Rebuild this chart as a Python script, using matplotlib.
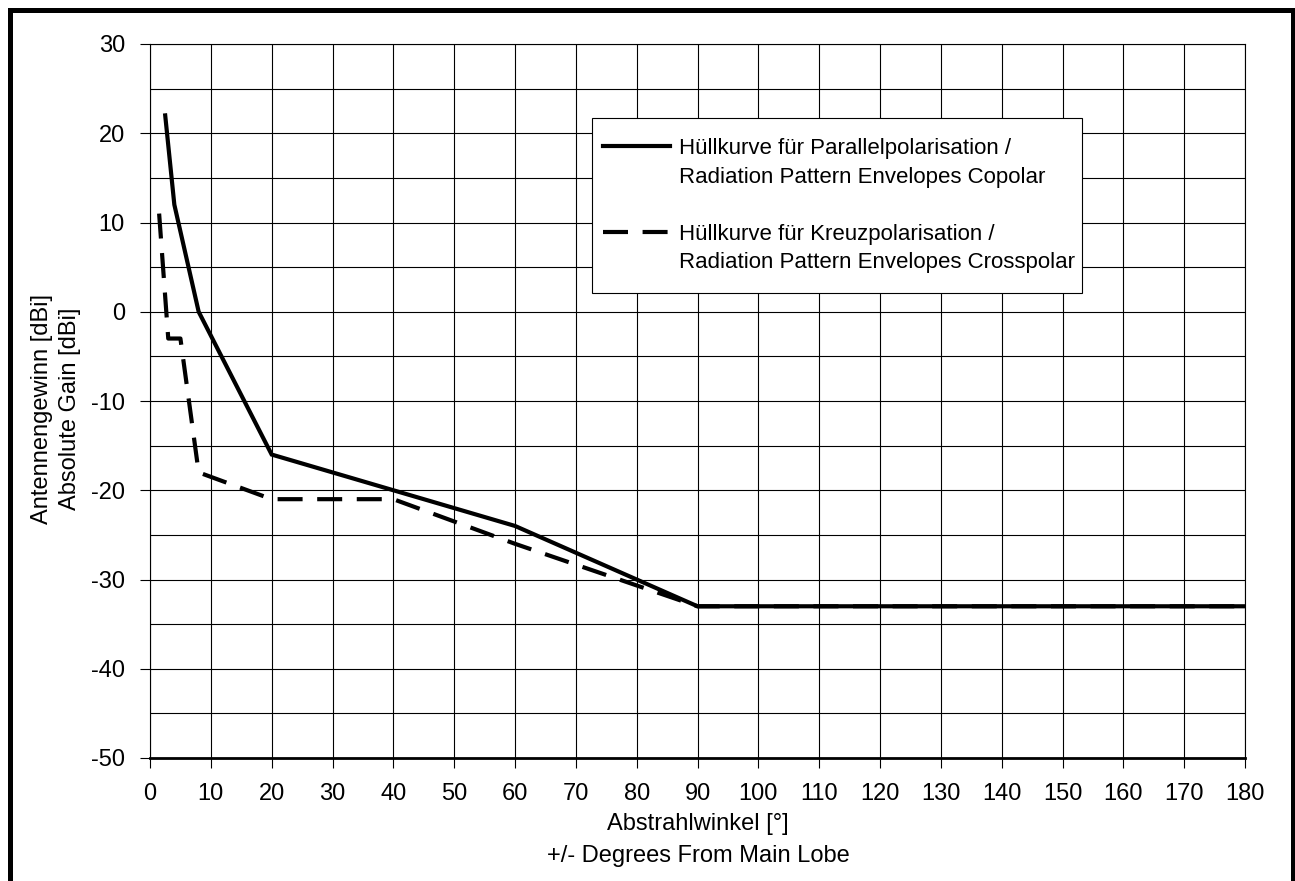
import matplotlib
matplotlib.use("Agg")
import matplotlib.pyplot as plt
from matplotlib.lines import Line2D
from matplotlib.patches import Rectangle

plt.rcParams['font.family'] = ['Liberation Sans', 'DejaVu Sans']
plt.rcParams['axes.unicode_minus'] = False

# envelope break points (angle in degrees, gain in dBi)
copolar_deg = [2.5, 4, 8, 20, 40, 60, 90, 180]
copolar_gain = [22, 12, 0, -16, -20, -24, -33, -33]

crosspolar_deg = [1.5, 3, 5, 8, 20, 40, 60, 90, 180]
crosspolar_gain = [11, -3, -3, -18, -21, -21, -26, -33, -33]

legend_rows = ["Hüllkurve für Parallelpolarisation /",
               "Radiation Pattern Envelopes Copolar",
               " ",
               "Hüllkurve für Kreuzpolarisation /",
               "Radiation Pattern Envelopes Crosspolar"]

W, H = 1295, 881
fig = plt.figure(figsize=(W / 100, H / 100), dpi=100)
ax = fig.add_axes([150 / W, 1 - 758 / H, 1095 / W, 714 / H])

co_line, = ax.plot(copolar_deg, copolar_gain, color='black', lw=3.0,
                   solid_joinstyle='miter', zorder=4)
cx_line, = ax.plot(crosspolar_deg, crosspolar_gain, color='black', lw=3.0,
                   dashes=(6, 3.5), zorder=3)

ax.set_xlim(0, 180)
ax.set_ylim(-50, 30)
ax.set_xticks(range(0, 181, 10))
ax.set_yticks(range(-50, 31, 10))
ax.set_yticks(range(-45, 30, 10), minor=True)
ax.grid(True, which='major', color='black', lw=0.8)
ax.grid(True, which='minor', axis='y', color='black', lw=0.8)
ax.tick_params(which='major', direction='out', length=7, width=0.8, labelsize=17, pad=11)
ax.tick_params(which='minor', length=0)

for side in ['top', 'right', 'left']:
    ax.spines[side].set_linewidth(0.8)
ax.spines['bottom'].set_linewidth(2)

# axis titles, two lines each
fig.text(698 / W, 1 - 840 / H, "Abstrahlwinkel [°]\n+/- Degrees From Main Lobe",
         ha='center', va='center', fontsize=17, linespacing=1.55)
fig.text(56 / W, 1 - 409 / H, "Antennengewinn [dBi]\nAbsolute Gain [dBi]",
         ha='center', va='center', rotation=90, fontsize=17, linespacing=1.4)

# legend box, taller than the legend rows themselves
box = Rectangle((592 / W, 1 - 293 / H), 490 / W, 175 / H, transform=fig.transFigure,
                facecolor='white', edgecolor='black', lw=0.8, zorder=5)
ax.add_artist(box)

# legend: handle sits next to the first line of each entry
blank = Line2D([], [], color='none')
leg = ax.legend([co_line, blank, blank, cx_line, blank], legend_rows,
                loc='upper left', bbox_to_anchor=(592 / W, 1 - 127 / H),
                bbox_transform=fig.transFigure, borderaxespad=0, fontsize=16,
                frameon=False, handlelength=3.0, labelspacing=0.34,
                borderpad=0.5, handletextpad=0.4)
leg.set_zorder(6)

# outer frame around the figure (bottom edge is cut off)
x0, x1, y0 = 9.5 / W, 1292.5 / W, 1 - 9.5 / H
for xs, ys in [([x0, x0], [0, y0]), ([x0, x1], [y0, y0]), ([x1, x1], [y0, 0])]:
    fig.add_artist(Line2D(xs, ys, transform=fig.transFigure, color='black', lw=3.6))

fig.savefig('out.png', dpi=100)
